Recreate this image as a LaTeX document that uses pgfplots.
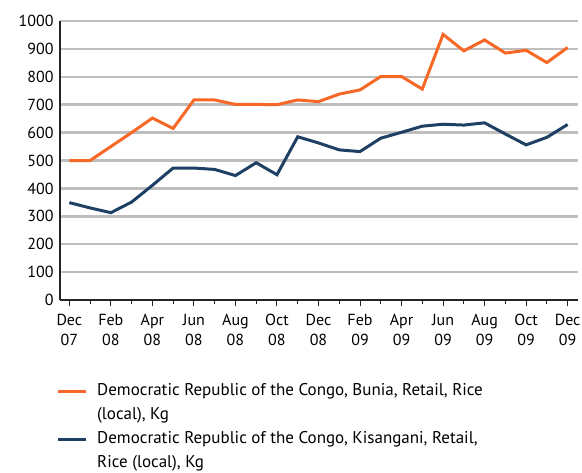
\documentclass[border=0pt]{standalone}
\usepackage{pgfplots}
\pgfplotsset{compat=1.18}
\usepackage{fontspec}
\setmainfont{PT Sans}
\definecolor{orng}{RGB}{247,104,38}
\definecolor{navy}{RGB}{30,64,100}
\definecolor{gridg}{RGB}{190,190,190}
\begin{document}
\begin{tikzpicture}
\begin{axis}[
  name=ax,
  scale only axis,
  width=518bp, height=279bp,
  xmin=-0.45, xmax=24.5,
  ymin=0, ymax=1000,
  ytick={0,100,...,1000},
  xtick={0,2,...,24},
  minor xtick={1,3,...,23},
  xticklabels={Dec\\07,Feb\\08,Apr\\08,Jun\\08,Aug\\08,Oct\\08,Dec\\08,Feb\\09,Apr\\09,Jun\\09,Aug\\09,Oct\\09,Dec\\09},
  xticklabel style={align=center, font=\fontsize{16bp}{20bp}\selectfont, yshift=-5bp},
  yticklabel style={font=\fontsize{16bp}{17bp}\selectfont, xshift=-3bp},
  /pgf/number format/assume math mode=true,
  /pgf/number format/1000 sep={},
  axis x line*=bottom,
  axis y line*=left,
  axis line style={line width=1.5bp, black!85},
  ymajorgrids,
  grid style={line width=2.5bp, gridg},
  major y tick style={draw=none},
  x tick style={line width=1bp, black!85},
  tickpos=left,
  xtick align=outside,
  major tick length=6bp,
  minor tick length=4bp,
  clip=false,
  legend style={draw=none, fill=none, at={(-0.0135,-0.29)}, anchor=north west,
    font=\fontsize{17bp}{19bp}\selectfont,
    nodes={inner sep=0pt, text height=12bp, text depth=4bp},
    row sep=8bp},
  legend cell align=left,
  legend image code/.code={\draw[#1] (0bp,0bp) -- (28bp,0bp); \path (38bp,0bp);},
]
\addplot[orng, line width=3bp] coordinates {
(0,500) (1,500) (2,550) (3,600) (4,652) (5,615) (6,717) (7,717) (8,701) (9,701) (10,700) (11,717)
(12,711) (13,738) (14,753) (15,801) (16,801) (17,756) (18,952) (19,893) (20,932) (21,885) (22,895) (23,851) (24,905)};
\addlegendentry{Democratic Republic of the Congo, Bunia, Retail, Rice}
\addlegendimage{empty legend}
\addlegendentry{(local), Kg}
\addplot[navy, line width=3bp] coordinates {
(0,349) (1,330) (2,313) (3,351) (4,411) (5,473) (6,473) (7,468) (8,446) (9,492) (10,449) (11,585)
(12,563) (13,538) (14,532) (15,580) (16,601) (17,623) (18,630) (19,627) (20,635) (21,595) (22,556) (23,583) (24,629)};
\addlegendentry{Democratic Republic of the Congo, Kisangani, Retail,}
\addlegendimage{empty legend}
\addlegendentry{Rice (local), Kg}
\end{axis}
\pgfresetboundingbox
\path ([xshift=-60bp,yshift=-173bp]ax.south west) rectangle ([xshift=4bp,yshift=21bp]ax.north east);
\end{tikzpicture}
\end{document}
